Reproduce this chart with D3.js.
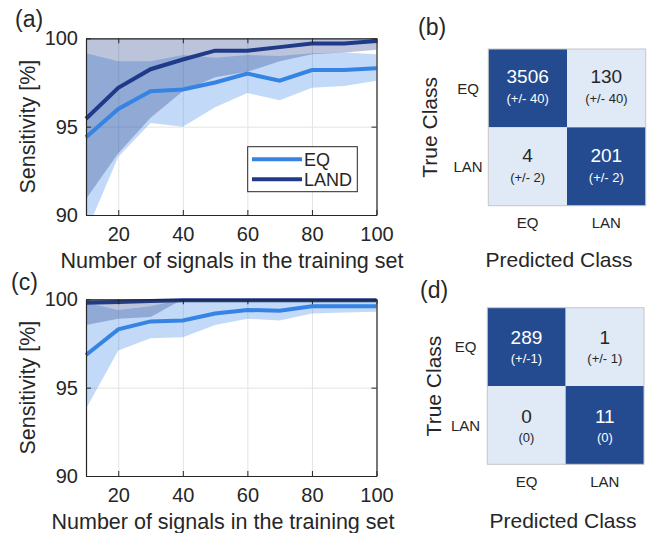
<!DOCTYPE html>
<html>
<head>
<meta charset="utf-8">
<script src="https://cdn.jsdelivr.net/npm/d3@7"></script>
<style>
  body { margin: 0; background: #fff; }
  svg text { font-family: "Liberation Sans", Arial, sans-serif; fill: #262626; }
</style>
</head>
<body>
<div id="chart"></div>
<script>
// ---- data ----
const nSignals = [10, 20, 30, 40, 50, 60, 70, 80, 90, 100];
const xTicks = [20, 40, 60, 80, 100];
const yTicks = [90, 95, 100];

// panel (a)
const eqMeanA  = [94.4, 96.0, 97.0, 97.1, 97.5, 98.0, 97.6, 98.2, 98.2, 98.3];
const eqLowA   = [89.0, 93.3, 95.2, 95.0, 96.1, 96.9, 96.5, 97.2, 97.3, 97.6];
const eqHighA  = [99.15, 98.7, 98.7, 99.05, 98.9, 99.05, 99.0, 99.15, 99.2, 99.1];
const landMeanA = [95.45, 97.2, 98.25, 98.8, 99.3, 99.3, 99.5, 99.7, 99.7, 99.85];
const landLowA  = [90.9, 93.5, 95.5, 97.0, 97.8, 98.1, 98.7, 99.1, 99.2, 99.35];
const landHighA = [100, 100, 100, 100, 100, 100, 100, 100, 100, 100];

// panel (c)
const eqMeanC  = [96.85, 98.3, 98.75, 98.8, 99.2, 99.4, 99.35, 99.6, 99.6, 99.6];
const eqLowC   = [93.8, 97.1, 97.8, 97.85, 98.55, 98.9, 98.8, 99.2, 99.25, 99.3];
const eqHighC  = [99.8, 99.4, 99.6, 100, 100, 100, 100, 100, 100, 100];
const landMeanC = [99.8, 99.85, 99.9, 99.95, 99.95, 99.95, 99.95, 99.95, 99.95, 99.95];
const landLowC  = [98.55, 98.9, 99.0, 100, 100, 100, 100, 100, 100, 100];
const landHighC = [100, 100, 100, 100, 100, 100, 100, 100, 100, 100];

const seriesNames = ['EQ', 'LAND'];

// confusion matrices
const classes = ['EQ', 'LAN'];
const countsB = [[3506, 130], [4, 201]];
const errB    = [['(+/- 40)', '(+/- 40)'], ['(+/- 2)', '(+/- 2)']];
const countsD = [[289, 1], [0, 11]];
const errD    = [['(+/-1)', '(+/- 1)'], ['(0)', '(0)']];

// ---- styles ----
const eqColor = '#3584e4';
const landColor = '#1f3a88';
const darkCell = '#244b8f';
const lightCell = '#dfeaf6';
const ink = '#262626';

const svg = d3.select('#chart').append('svg')
    .attr('width', 654)
    .attr('height', 533);

function linePanel(opts) {
    const { top, bottom, left, right } = opts;
    const x = d3.scaleLinear().domain([10, 100]).range([left, right]);
    const y = d3.scaleLinear().domain([90, 100]).range([bottom, top]);
    const g = svg.append('g');

    const clipId = 'clip-' + opts.tag;
    svg.append('clipPath').attr('id', clipId)
        .append('rect')
        .attr('x', left).attr('y', top)
        .attr('width', right - left).attr('height', bottom - top);

    // grid
    g.append('g')
        .attr('transform', `translate(0,${bottom})`)
        .call(d3.axisBottom(x).tickValues(xTicks).tickSize(-(bottom - top)).tickFormat(''))
        .call(s => s.select('.domain').remove())
        .selectAll('line').attr('stroke', '#e3e3e3');
    g.append('g')
        .attr('transform', `translate(${left},0)`)
        .call(d3.axisLeft(y).tickValues(yTicks).tickSize(-(right - left)).tickFormat(''))
        .call(s => s.select('.domain').remove())
        .selectAll('line').attr('stroke', '#e3e3e3');

    // bands
    const bands = g.append('g').attr('clip-path', `url(#${clipId})`);
    const area = d3.area()
        .x((d, i) => x(nSignals[i]))
        .y0(d => y(d[0]))
        .y1(d => y(d[1]));
    bands.append('path')
        .datum(opts.eqLow.map((v, i) => [v, opts.eqHigh[i]]))
        .attr('d', area)
        .attr('fill', eqColor)
        .attr('fill-opacity', 0.3);
    bands.append('path')
        .datum(opts.landLow.map((v, i) => [v, opts.landHigh[i]]))
        .attr('d', area)
        .attr('fill', landColor)
        .attr('fill-opacity', 0.3);

    // mean lines
    const line = d3.line().x((d, i) => x(nSignals[i])).y(d => y(d));
    g.append('path').datum(opts.eqMean).attr('d', line)
        .attr('fill', 'none').attr('stroke', eqColor).attr('stroke-width', 4);
    g.append('path').datum(opts.landMean).attr('d', line)
        .attr('fill', 'none').attr('stroke', landColor).attr('stroke-width', 4);

    // axes, ticks pointing inwards
    const bx = g.append('g')
        .attr('transform', `translate(0,${bottom})`)
        .call(d3.axisBottom(x).tickValues(xTicks).tickSize(-5).tickSizeOuter(0).tickPadding(12));
    const ly = g.append('g')
        .attr('transform', `translate(${left},0)`)
        .call(d3.axisLeft(y).tickValues(yTicks).tickSize(-5).tickSizeOuter(0).tickPadding(8));
    g.append('g')
        .attr('transform', `translate(0,${top})`)
        .call(d3.axisTop(x).tickValues(xTicks).tickSize(-5).tickSizeOuter(0).tickFormat(''));
    g.append('g')
        .attr('transform', `translate(${right},0)`)
        .call(d3.axisRight(y).tickValues(yTicks).tickSize(-5).tickSizeOuter(0).tickFormat(''));
    g.selectAll('.domain').attr('stroke', ink).attr('stroke-width', 1.2);
    g.selectAll('.tick line').filter(function () { return !this.getAttribute('stroke') || this.getAttribute('stroke') === 'currentColor'; })
        .attr('stroke', ink);
    [bx, ly].forEach(a => a.selectAll('text')
        .style('font-size', '20px')
        .style('fill', ink)
        .attr('font-family', null));

    // labels
    svg.append('text')
        .attr('x', opts.xLabelX).attr('y', opts.xLabelY)
        .attr('text-anchor', 'middle')
        .style('font-size', '21.5px')
        .text('Number of signals in the training set');
    svg.append('text')
        .attr('transform', `translate(35,${(top + bottom) / 2}) rotate(-90)`)
        .attr('text-anchor', 'middle')
        .style('font-size', '21.5px')
        .text('Sensitivity [%]');
    svg.append('text')
        .attr('x', opts.tagX).attr('y', opts.tagY)
        .style('font-size', '23px')
        .text(`(${opts.tag})`);

    return g;
}

linePanel({
    tag: 'a', top: 38.3, bottom: 215, left: 86, right: 376.5,
    eqMean: eqMeanA, eqLow: eqLowA, eqHigh: eqHighA,
    landMean: landMeanA, landLow: landLowA, landHigh: landHighA,
    xLabelX: 232, xLabelY: 267.5, tagX: 15, tagY: 27
});

linePanel({
    tag: 'c', top: 299.3, bottom: 476, left: 86, right: 376.5,
    eqMean: eqMeanC, eqLow: eqLowC, eqHigh: eqHighC,
    landMean: landMeanC, landLow: landLowC, landHigh: landHighC,
    xLabelX: 223, xLabelY: 528.5, tagX: 11, tagY: 290
});

// legend in panel (a)
const legend = svg.append('g');
legend.append('rect')
    .attr('x', 247.7).attr('y', 146.7)
    .attr('width', 109.6).attr('height', 45)
    .attr('fill', '#fff').attr('stroke', ink).attr('stroke-width', 1);
const legendRow = d3.scaleBand().domain(seriesNames).range([149.3, 189.3]);
legend.selectAll('line.key')
    .data(seriesNames)
    .enter().append('line')
    .attr('class', 'key')
    .attr('x1', 252).attr('x2', 302)
    .attr('y1', d => legendRow(d) + legendRow.bandwidth() / 2)
    .attr('y2', d => legendRow(d) + legendRow.bandwidth() / 2)
    .attr('stroke', (d, i) => [eqColor, landColor][i])
    .attr('stroke-width', 4);
legend.selectAll('text.key')
    .data(seriesNames)
    .enter().append('text')
    .attr('class', 'key')
    .attr('x', 304)
    .attr('y', d => legendRow(d) + legendRow.bandwidth() / 2)
    .attr('dy', '0.36em')
    .style('font-size', '18px')
    .text(d => d);

function confusionPanel(opts) {
    const col = d3.scaleBand().domain(classes).range([opts.left, opts.right]);
    const row = d3.scaleBand().domain(classes).range([opts.top, opts.bottom]);
    const g = svg.append('g');
    const cells = [];
    classes.forEach((r, i) => classes.forEach((c, j) => {
        cells.push({ r, c, diag: i === j, n: opts.counts[i][j], err: opts.err[i][j] });
    }));

    g.selectAll('rect.cell')
        .data(cells)
        .enter().append('rect')
        .attr('class', 'cell')
        .attr('x', d => col(d.c)).attr('y', d => row(d.r))
        .attr('width', col.bandwidth()).attr('height', row.bandwidth())
        .attr('fill', d => d.diag ? darkCell : lightCell);

    g.append('rect')
        .attr('x', opts.left).attr('y', opts.top)
        .attr('width', opts.right - opts.left).attr('height', opts.bottom - opts.top)
        .attr('fill', 'none').attr('stroke', '#c6c6c6').attr('stroke-width', 1);

    g.selectAll('text.count')
        .data(cells)
        .enter().append('text')
        .attr('class', 'count')
        .attr('x', d => col(d.c) + col.bandwidth() / 2)
        .attr('y', d => row(d.r) + row.bandwidth() / 2 + opts.countDy)
        .attr('text-anchor', 'middle')
        .style('font-size', '19px')
        .style('fill', d => d.diag ? '#fff' : ink)
        .text(d => d.n);
    g.selectAll('text.err')
        .data(cells)
        .enter().append('text')
        .attr('class', 'err')
        .attr('x', d => col(d.c) + col.bandwidth() / 2)
        .attr('y', d => row(d.r) + row.bandwidth() / 2 + opts.errDy)
        .attr('text-anchor', 'middle')
        .style('font-size', '13px')
        .style('fill', d => d.diag ? '#fff' : ink)
        .text(d => d.err);

    // class labels
    g.selectAll('text.rowlab')
        .data(classes)
        .enter().append('text')
        .attr('class', 'rowlab')
        .attr('x', opts.rowLabX)
        .attr('y', d => row(d) + row.bandwidth() / 2)
        .attr('dy', '0.36em')
        .attr('text-anchor', 'middle')
        .style('font-size', '15px')
        .text(d => d);
    g.selectAll('text.collab')
        .data(classes)
        .enter().append('text')
        .attr('class', 'collab')
        .attr('x', d => col(d) + col.bandwidth() / 2)
        .attr('y', opts.colLabY)
        .attr('text-anchor', 'middle')
        .style('font-size', '15px')
        .text(d => d);

    g.append('text')
        .attr('x', opts.predX).attr('y', opts.predY)
        .attr('text-anchor', 'middle')
        .style('font-size', '21px')
        .text('Predicted Class');
    g.append('text')
        .attr('transform', `translate(${opts.trueX},${(opts.top + opts.bottom) / 2}) rotate(-90)`)
        .attr('text-anchor', 'middle')
        .style('font-size', '21px')
        .text('True Class');
    g.append('text')
        .attr('x', opts.tagX).attr('y', opts.tagY)
        .style('font-size', '23px')
        .text(`(${opts.tag})`);
}

confusionPanel({
    tag: 'b', left: 488.3, right: 645.7, top: 49, bottom: 205.7,
    counts: countsB, err: errB, countDy: -5, errDy: 15,
    rowLabX: 468, colLabY: 228, predX: 559, predY: 266.5, trueX: 437, tagX: 418, tagY: 35
});

confusionPanel({
    tag: 'd', left: 487.3, right: 644, top: 307.7, bottom: 464.3,
    counts: countsD, err: errD, countDy: -2.5, errDy: 16.5,
    rowLabX: 465.5, colLabY: 487, predX: 563, predY: 528, trueX: 440.5, tagX: 420, tagY: 298
});
</script>
</body>
</html>
